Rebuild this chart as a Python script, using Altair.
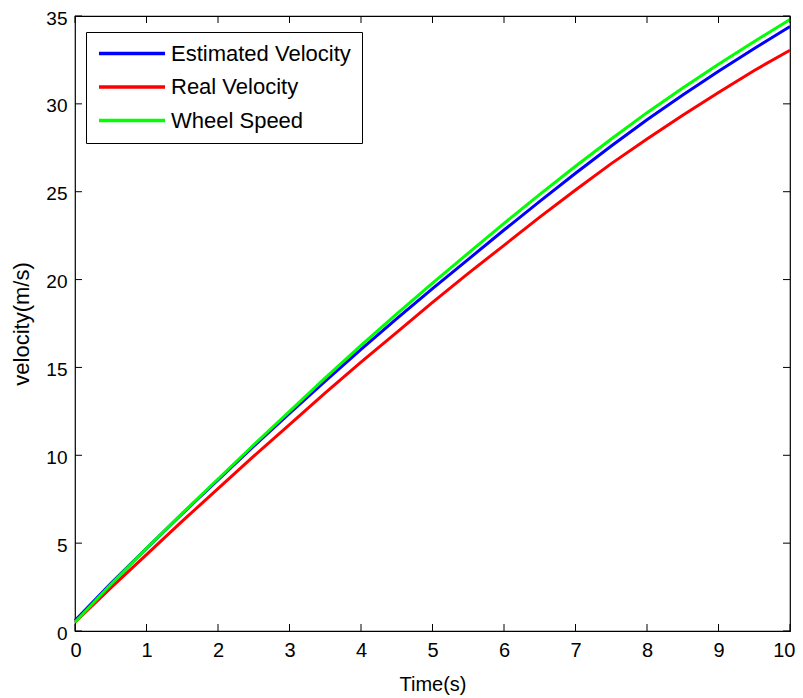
import altair as alt
import pandas as pd

# ---- data ----
time_s = [0, 0.5, 1, 1.5, 2, 2.5, 3, 3.5, 4, 4.5, 5, 5.5, 6, 6.5, 7, 7.5, 8, 8.5, 9, 9.5, 10]
estimated_velocity = [0.6, 2.7, 4.7, 6.68, 8.6, 10.52, 12.38, 14.22, 16.03, 17.78, 19.48,
                      21.15, 22.82, 24.45, 26.05, 27.6, 29.1, 30.5, 31.85, 33.15, 34.4]
real_velocity = [0.5, 2.45, 4.35, 6.25, 8.1, 9.95, 11.75, 13.55, 15.3, 17.0, 18.7,
                 20.35, 21.95, 23.55, 25.1, 26.6, 28.0, 29.35, 30.65, 31.9, 33.05]
wheel_speed = [0.5, 2.65, 4.7, 6.7, 8.65, 10.6, 12.5, 14.4, 16.25, 18.05, 19.8,
               21.5, 23.2, 24.85, 26.45, 28.0, 29.5, 30.9, 32.25, 33.55, 34.8]

series_names = ["Estimated Velocity", "Real Velocity", "Wheel Speed"]
series_colors = ["#0000FF", "#FF0000", "#00FF00"]
x_ticks = [0, 1, 2, 3, 4, 5, 6, 7, 8, 9, 10]
y_ticks = [0, 5, 10, 15, 20, 25, 30, 35]

rows = []
for name, vals in zip(series_names, [estimated_velocity, real_velocity, wheel_speed]):
    for t, v in zip(time_s, vals):
        rows.append({"t": t, "v": v, "series": name})
df = pd.DataFrame(rows)

W, H = 715, 615
FONT = "Liberation Sans"
TICK = 7

xs = alt.Scale(domain=[0, 10], nice=False, zero=False)
ys = alt.Scale(domain=[0, 35], nice=False, zero=False)

lines = alt.Chart(df).mark_line(strokeWidth=3).encode(
    x=alt.X("t:Q", scale=xs,
            axis=alt.Axis(title="Time(s)", values=x_ticks, format="d", tickSize=0,
                          domain=False, grid=False, labelPadding=9, titlePadding=14,
                          labelFontSize=20, titleFontSize=20,
                          labelFlush=True, labelFlushOffset=5)),
    y=alt.Y("v:Q", scale=ys,
            axis=alt.Axis(title="velocity(m/s)", values=y_ticks, format="d", tickSize=0,
                          domain=False, grid=False, labelPadding=8, titlePadding=12,
                          labelOffset=2, labelFontSize=19, titleFontSize=22,
                          labelFlush=False)),
    color=alt.Color("series:N",
                    scale=alt.Scale(domain=series_names, range=series_colors),
                    legend=alt.Legend(title=None, orient="none", legendX=11, legendY=16,
                                      symbolType="stroke", symbolSize=4356,
                                      symbolStrokeWidth=3.5, labelFontSize=22,
                                      labelOffset=4, symbolOffset=0, padding=11,
                                      clipHeight=21, rowPadding=10.5, labelLimit=0,
                                      strokeColor="black", fillColor="white",
                                      cornerRadius=0, labelColor="black", labelFont=FONT)),
)

xt = pd.DataFrame({"t": x_ticks})
yt = pd.DataFrame({"v": y_ticks})

xtick_bottom = alt.Chart(xt).mark_rule(color="black", strokeWidth=1).encode(
    x=alt.X("t:Q", scale=xs), y=alt.value(H), y2=alt.value(H - TICK))
xtick_top = alt.Chart(xt).mark_rule(color="black", strokeWidth=1).encode(
    x=alt.X("t:Q", scale=xs), y=alt.value(0), y2=alt.value(TICK))
ytick_left = alt.Chart(yt).mark_rule(color="black", strokeWidth=1).encode(
    y=alt.Y("v:Q", scale=ys), x=alt.value(0), x2=alt.value(TICK))
ytick_right = alt.Chart(yt).mark_rule(color="black", strokeWidth=1).encode(
    y=alt.Y("v:Q", scale=ys), x=alt.value(W), x2=alt.value(W - TICK))

chart = alt.layer(lines, xtick_bottom, xtick_top, ytick_left, ytick_right).properties(
    width=W, height=H,
    autosize=alt.AutoSizeParams(type="none"),
    padding={"left": 67, "top": 8, "right": 5, "bottom": 67},
    background="white",
).configure_view(stroke="black", strokeWidth=1.2).configure_axis(
    labelFont=FONT, titleFont=FONT, labelColor="black", titleColor="black",
    titleFontWeight="normal",
).configure_legend(labelFont=FONT)

chart.save("out.html", embed_options={"renderer": "svg", "actions": False})
